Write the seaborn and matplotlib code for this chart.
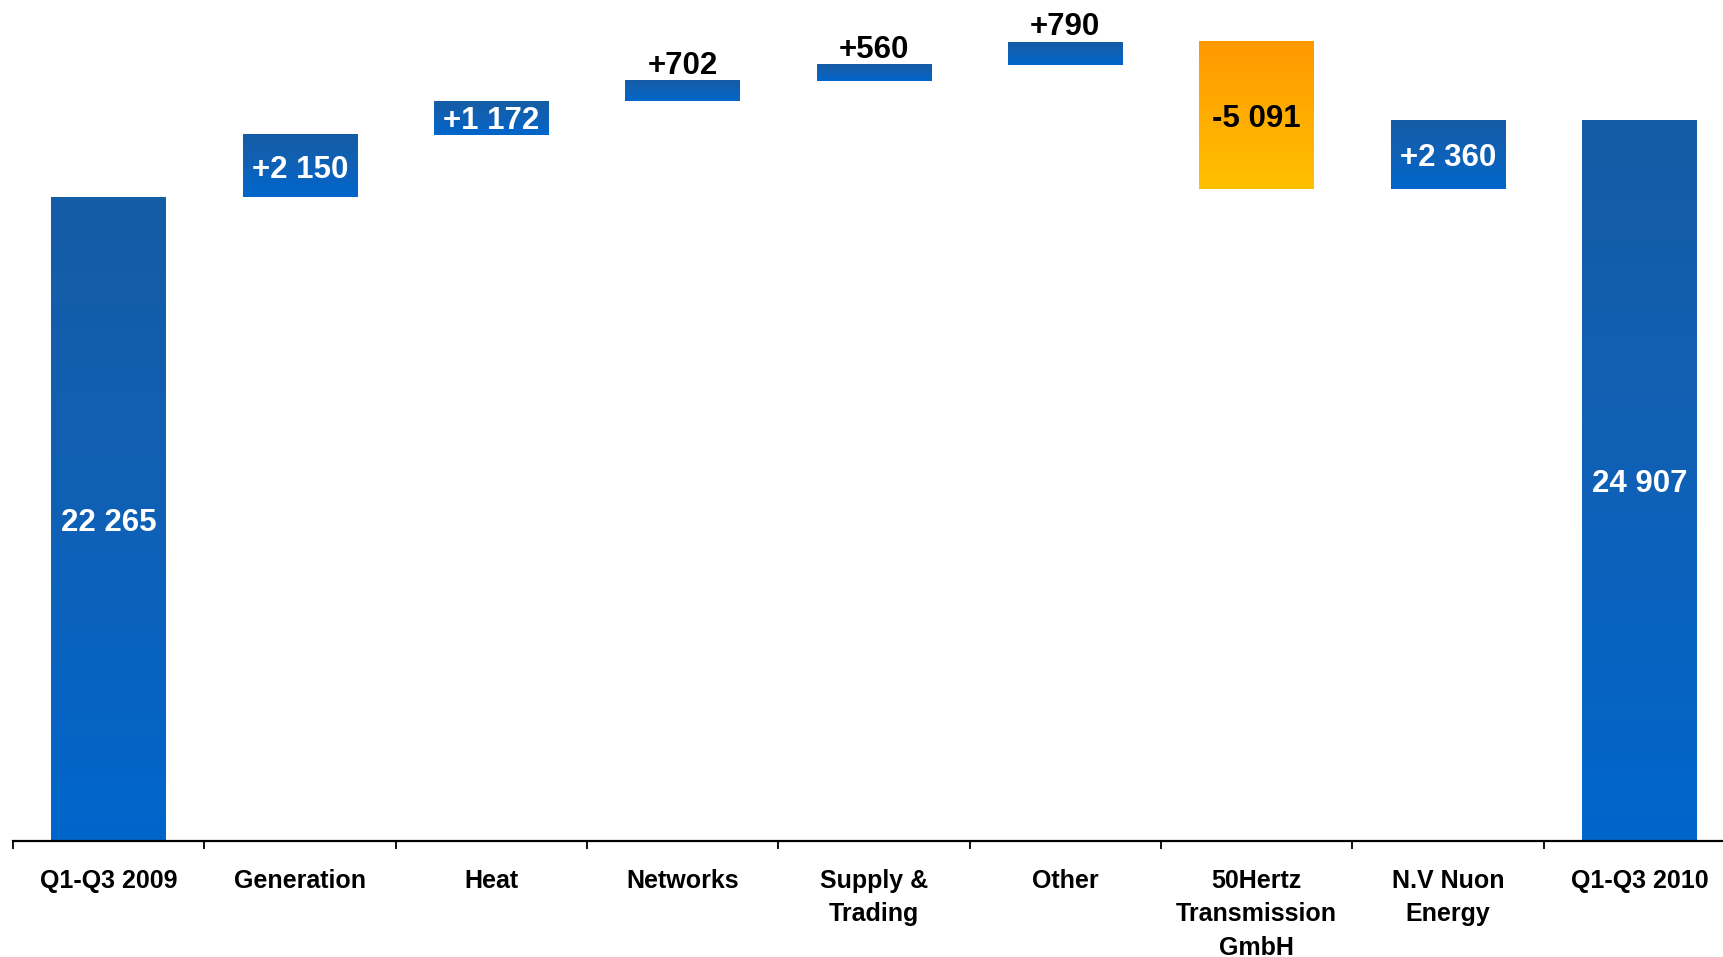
import numpy as np
import pandas as pd
import matplotlib
matplotlib.use("Agg")
import matplotlib.pyplot as plt
from matplotlib.colors import LinearSegmentedColormap
from matplotlib.ticker import FixedLocator
import seaborn as sns

# EBITDA bridge, Q1-Q3 2009 -> Q1-Q3 2010
categories = ["Q1-Q3 2009", "Generation", "Heat", "Networks", "Supply &\nTrading",
              "Other", "50Hertz\nTransmission\nGmbH", "N.V Nuon\nEnergy", "Q1-Q3 2010"]
start_value = 22265
changes = [2150, 1172, 702, 560, 790, -5091, 2360]
end_value = 24907
value_labels = ["22 265", "+2 150", "+1 172", "+702", "+560", "+790", "-5 091", "+2 360", "24 907"]

# waterfall geometry: bottoms and heights of every bar
bottoms, heights = [0], [start_value]
running = start_value
for c in changes:
    if c >= 0:
        bottoms.append(running)
    else:
        bottoms.append(running + c)
    heights.append(abs(c))
    running += c
bottoms.append(0)
heights.append(end_value)

kinds = ["total"] + ["up" if c >= 0 else "down" for c in changes] + ["total"]
label_place = ["in", "in", "in", "above", "above", "above", "in", "in", "in"]

df = pd.DataFrame({"category": categories, "height": heights})

sns.set_theme(style="white")
plt.rcParams["font.family"] = ["Liberation Sans", "DejaVu Sans"]
plt.rcParams["font.weight"] = "bold"
plt.rcParams["text.color"] = "black"
plt.rcParams["xtick.color"] = "black"
plt.rcParams["xtick.labelcolor"] = "black"

W, H = 1723, 957
fig = plt.figure(figsize=(W / 100, H / 100), dpi=100)
ax = fig.add_axes([13 / W, (H - 841) / H, (1735 - 13) / W, 841 / H])

sns.barplot(data=df, x="category", y="height", width=0.6, color="#0066CC",
            linewidth=0, ax=ax, zorder=2)

blue = LinearSegmentedColormap.from_list("blue", ["#0066CC", "#0F61B6", "#155CA5"])
orange = LinearSegmentedColormap.from_list("orange", ["#FFC000", "#FF9900"])
grad = np.linspace(0, 1, 256).reshape(-1, 1)

for i, patch in enumerate(ax.patches):
    patch.set_y(bottoms[i])
    patch.set_height(heights[i])
    x0 = patch.get_x()
    w = patch.get_width()
    cmap = orange if kinds[i] == "down" else blue
    patch.set_facecolor(cmap(0.0))
    ax.imshow(grad, cmap=cmap, origin="lower", aspect="auto", interpolation="bicubic",
              extent=[x0, x0 + w, bottoms[i], bottoms[i] + heights[i]], zorder=3)

ax.set_xlim(-0.5, 8.5)
ax.set_ylim(0, 29080)

for i, lab in enumerate(value_labels):
    if label_place[i] == "in":
        color = "black" if kinds[i] == "down" else "white"
        ax.text(i, bottoms[i] + heights[i] / 2, lab, ha="center", va="center_baseline",
                fontsize=22.5, fontweight="bold", color=color, zorder=5)
    else:
        ax.annotate(lab, (i, bottoms[i] + heights[i]), xytext=(0, 5),
                    textcoords="offset points", ha="center", va="baseline",
                    fontsize=22.5, fontweight="bold", color="black", zorder=5)

ax.set_xlabel("")
ax.set_ylabel("")
ax.set_yticks([])
for side in ["top", "right", "left"]:
    ax.spines[side].set_visible(False)
ax.spines["bottom"].set_color("black")
ax.spines["bottom"].set_linewidth(1.6)
ax.spines["bottom"].set_zorder(6)

ax.set_xticks(range(len(categories)))
ax.set_xticklabels(categories, fontsize=18, fontweight="bold", linespacing=1.5,
                   multialignment="center", color="black")
ax.tick_params(axis="x", which="major", length=0, pad=20)
ax.xaxis.set_minor_locator(FixedLocator(np.arange(-0.5, 9.0, 1.0)))
ax.tick_params(axis="x", which="minor", bottom=True, length=6, width=1.3,
               color="black", direction="out")

fig.savefig("out.png", dpi=100)
